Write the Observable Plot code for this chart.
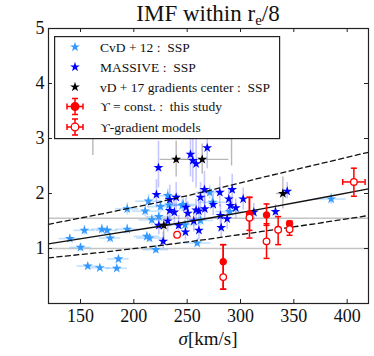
<!DOCTYPE html>
<html><head><meta charset="utf-8">
<script src="https://cdn.jsdelivr.net/npm/d3@7"></script>
<script src="https://cdn.jsdelivr.net/npm/@observablehq/plot@0.6"></script>
<style>
body{margin:0;background:#fff;}
#wrap{position:relative;width:374px;height:356px;font-family:"Liberation Serif","DejaVu Serif",serif;color:#111;}
#title{position:absolute;left:0;top:0;width:416px;text-align:center;font-size:23px;line-height:28px;white-space:nowrap;}
#title sub{font-size:15px;vertical-align:baseline;position:relative;top:4px;}
#xlabel{position:absolute;left:0;width:416px;top:328px;text-align:center;font-size:19px;line-height:22px;white-space:nowrap;}
#legend{position:absolute;left:54px;top:36px;}
</style></head><body>
<div id="wrap"><div id="chart"></div><div id="title">IMF within r<sub>e</sub>/8</div><div id="xlabel"><i>σ</i>[km/s]</div><svg id="legend" width="227" height="104"></svg></div>
<script>
// ---- data ----
const xTicks = [150, 200, 250, 300, 350, 400];
const yTicks = [1, 2, 3, 4, 5];
const refLines = [1, 1.55];

// CvD+12 : SSP (light blue stars)
const cvdSigma = [140,150,153.7,170,175,177.8,193.8,193.8,213.7,210.6,216.9,212.2,214.7,220.6,185.6,156.8,168.1,184,231.8,223.4,225,246.3,259.4,262.5,245.3,271.2,273.7,290,385,248,233];
const cvdIMF   = [1.18,1.02,1.33,1.35,1.33,1.19,1.35,1.72,1.86,1.68,1.52,1.22,1.19,0.98,0.81,0.68,0.65,0.64,1.96,1.58,1.76,1.80,1.10,1.51,1.78,2.02,1.84,1.67,1.90,1.43,1.79];
const cvdSigmaErr = [10,10,10,10,10,10,11,11,12,12,12,12,12,12,10,10,10,10,12,12,12,12,13,12,12,13,13,13,14,12,12];
const cvdIMFErr   = [0.08,0.07,0.09,0.09,0.09,0.08,0.09,0.11,0.12,0.1,0.1,0.08,0.08,0.07,0.06,0.05,0.05,0.05,0.12,0.1,0.11,0.11,0.07,0.1,0.11,0.12,0.11,0.1,0.1,0.09,0.11];

// MASSIVE : SSP (blue stars)
const masSigma = [223.1,253.1,255.3,258.4,268.8,266.2,280.6,292.2,221.2,233.7,239.7,262.5,289,302.5,233.7,238,249,258.4,266.5,290.6,281.2,312.5,332.8,223.4,231.8,242,248.4,256.2,261,227.5,287.5,281.9,343.8,250.6,274.4,295.6,260.9];
const masIMF   = [2.47,2.71,2.60,2.54,2.83,2.07,2.02,2.07,1.98,1.89,1.93,1.93,1.90,1.90,1.69,1.66,1.75,1.70,1.72,1.78,1.60,1.66,1.67,1.42,1.50,1.42,1.30,1.50,1.33,1.13,1.54,1.38,2.04,1.64,1.80,1.74,1.68];
const masIMFLo = [2.10,2.30,2.20,2.10,2.45,1.80,1.75,1.80,1.75,1.65,1.70,1.70,1.70,1.70,1.50,1.45,1.55,1.50,1.50,1.60,1.40,1.50,1.55,1.25,1.30,1.25,1.15,1.30,1.15,1.00,1.35,1.20,1.90,1.45,1.60,1.55,1.50];
const masIMFHi = [2.95,3.30,3.10,3.00,3.30,2.40,2.30,2.35,2.25,2.15,2.20,2.20,2.10,2.10,1.90,1.85,1.95,1.90,1.95,1.95,1.80,1.82,1.80,1.60,1.70,1.60,1.45,1.70,1.50,1.30,1.72,1.55,2.20,1.85,2.00,1.90,1.85];

// vD+17 gradients center : SSP (black stars)
const vdSigma = [239.7,264.1,228.1,339.7,291.6,161.6];
const vdIMF   = [2.62,2.62,1.42,2.00,3.30,3.20];
const vdSigmaErr = [15,25,8,6,10,8];
const vdIMFLo = [2.30,2.35,1.15,1.72,2.50,2.69];
const vdIMFHi = [2.95,2.90,1.50,2.30,4.00,3.70];

// Upsilon = const. : this study (filled red)
const constSigma = [283.8,308.4,324.4,346];
const constIMF   = [0.76,1.63,1.61,1.45];
const constLo    = [0.26,1.33,1.42,1.38];
const constHi    = [1.07,1.93,1.81,1.50];

// Upsilon-gradient models (open red)
const gradSigma = [283.8,308.4,324.4,335.3,346,406.3,240.6];
const gradIMF   = [0.48,1.56,1.13,1.34,1.35,2.21,1.25];
const gradLo    = [0.26,1.19,0.82,1.07,1.24,1.95,1.25];
const gradHi    = [1.07,1.93,1.45,1.58,1.48,2.46,1.25];
const gradSigmaErr = [0,0,0,0,0,10.5,0];

// fit relation and scatter
const fitSigma = [120,170,223,270,320,370,420];
const fitMid   = [1.085,1.24,1.40,1.55,1.72,1.90,2.085];
const fitUp    = [1.44,1.63,1.84,2.05,2.29,2.52,2.75];
const fitLow   = [0.83,0.93,1.05,1.17,1.31,1.45,1.60];

// ---- tables ----
const cvd = cvdSigma.map((s,i)=>({s, v:cvdIMF[i], se:cvdSigmaErr[i], ve:cvdIMFErr[i]}));
const mas = masSigma.map((s,i)=>({s, v:masIMF[i], lo:masIMFLo[i], hi:masIMFHi[i]}));
const vd  = vdSigma.map((s,i)=>({s, v:vdIMF[i], se:vdSigmaErr[i], lo:vdIMFLo[i], hi:vdIMFHi[i]}));
const cst = constSigma.map((s,i)=>({s, v:constIMF[i], lo:constLo[i], hi:constHi[i]}));
const grd = gradSigma.map((s,i)=>({s, v:gradIMF[i], lo:gradLo[i], hi:gradHi[i], se:gradSigmaErr[i]}));
const fit = fitSigma.map((s,i)=>({s, mid:fitMid[i], up:fitUp[i], low:fitLow[i]}));

const capH = {draw(ctx){ctx.moveTo(-3,0);ctx.lineTo(3,0);}};
const capV = {draw(ctx){ctx.moveTo(0,-3);ctx.lineTo(0,3);}};
const RED = "#ff0000", LB = "#3399ff", BL = "#0000ff";
const gradBars = grd.filter(d=>d.hi>d.lo);
const gradX = grd.filter(d=>d.se>0);
const SR = 3.1;

const plot = Plot.plot({
  width: 374, height: 356,
  marginTop: 28, marginBottom: 53, marginLeft: 48, marginRight: 6,
  style: {fontFamily: '"Liberation Serif","DejaVu Serif",serif', background: "white", color: "#111"},
  x: {domain: [120, 420]},
  y: {domain: [0, 5]},
  marks: [
    Plot.ruleY(refLines, {y: d=>d, stroke: "#c4c4c4", strokeWidth: 1.5}),
    // CvD error bars
    Plot.ruleY(cvd, {y:"v", x1:d=>d.s-d.se, x2:d=>d.s+d.se, stroke: LB, strokeOpacity: 0.3, strokeWidth: 1.6}),
    Plot.ruleX(cvd, {x:"s", y1:d=>d.v-d.ve, y2:d=>d.v+d.ve, stroke: LB, strokeOpacity: 0.3, strokeWidth: 1.6}),
    // MASSIVE error bars
    Plot.ruleX(mas, {x:"s", y1:"lo", y2:"hi", stroke: BL, strokeOpacity: 0.22, strokeWidth: 1.6}),
    // vD+17 error bars
    Plot.ruleY(vd, {y:"v", x1:d=>d.s-d.se, x2:d=>d.s+d.se, stroke: "#888", strokeOpacity: 0.6, strokeWidth: 1.4}),
    Plot.ruleX(vd, {x:"s", y1:"lo", y2:"hi", stroke: "#888", strokeOpacity: 0.6, strokeWidth: 1.4}),
    Plot.dot(cvd, {x:"s", y:"v", symbol:"star", r:SR, fill: LB}),
    Plot.dot(mas, {x:"s", y:"v", symbol:"star", r:SR, fill: BL}),
    Plot.dot(vd,  {x:"s", y:"v", symbol:"star", r:SR, fill: "black"}),
    // fit lines
    Plot.line(fit, {x:"s", y:"mid", stroke:"#111", strokeWidth:1.3}),
    Plot.line(fit, {x:"s", y:"up", stroke:"#111", strokeWidth:1.3, strokeDasharray:"5,3.5"}),
    Plot.line(fit, {x:"s", y:"low", stroke:"#111", strokeWidth:1.3, strokeDasharray:"5,3.5"}),
    // red error bars
    Plot.ruleX(cst, {x:"s", y1:"lo", y2:"hi", stroke: RED, strokeWidth: 1.5}),
    Plot.ruleX(gradBars, {x:"s", y1:"lo", y2:"hi", stroke: RED, strokeWidth: 1.5}),
    Plot.ruleY(gradX, {y:"v", x1:d=>d.s-d.se, x2:d=>d.s+d.se, stroke: RED, strokeWidth: 1.5}),
    Plot.dot(cst, {x:"s", y:"lo", symbol: capH, stroke: RED, fill: "none", strokeWidth: 1.5}),
    Plot.dot(cst, {x:"s", y:"hi", symbol: capH, stroke: RED, fill: "none", strokeWidth: 1.5}),
    Plot.dot(gradBars, {x:"s", y:"lo", symbol: capH, stroke: RED, fill: "none", strokeWidth: 1.5}),
    Plot.dot(gradBars, {x:"s", y:"hi", symbol: capH, stroke: RED, fill: "none", strokeWidth: 1.5}),
    Plot.dot(gradX, {x:d=>d.s-d.se, y:"v", symbol: capV, stroke: RED, fill: "none", strokeWidth: 1.5}),
    Plot.dot(gradX, {x:d=>d.s+d.se, y:"v", symbol: capV, stroke: RED, fill: "none", strokeWidth: 1.5}),
    Plot.dot(cst, {x:"s", y:"v", r:3.3, fill: RED, stroke: RED, strokeWidth: 1}),
    Plot.dot(grd, {x:"s", y:"v", r:3.3, fill: "white", stroke: RED, strokeWidth: 1.3}),
    // frame, ticks, axes
    Plot.frame({stroke: "#222", strokeWidth: 1.2}),
    Plot.tickX(xTicks, {x: d=>d, insetTop: 271, stroke: "#222"}),
    Plot.tickX(xTicks, {x: d=>d, insetBottom: 271, stroke: "#222"}),
    Plot.tickY(yTicks, {y: d=>d, insetRight: 316, stroke: "#222"}),
    Plot.tickY(yTicks, {y: d=>d, insetLeft: 316, stroke: "#222"}),
    Plot.axisX({ticks: xTicks, tickFormat: d3.format("d"), tickSize: 0, tickPadding: 6, fontSize: 18, label: null}),
    Plot.axisY({ticks: yTicks, tickFormat: d3.format("d"), tickSize: 0, tickPadding: 4, fontSize: 18, label: null})
  ]
});
document.getElementById("chart").appendChild(plot);

// ---- legend ----
const lg = d3.select("#legend");
lg.append("rect").attr("x",0.6).attr("y",0.6).attr("width",225).attr("height",102)
  .attr("fill","white").attr("stroke","#222").attr("stroke-width",1.2);
const rows = [
  {t:"CvD + 12 :  SSP", k:"star", c:LB},
  {t:"MASSIVE :  SSP", k:"star", c:BL},
  {t:"vD + 17 gradients center :  SSP", k:"star", c:"black"},
  {t:"ϒ = const. :  this study", k:"err", c:RED, filled:true},
  {t:"ϒ-gradient models", k:"err", c:RED, filled:false}
];
const rowY = [11, 31, 51, 70.5, 91];
const starPath = d3.symbol(d3.symbolStar, Math.PI*SR*SR)();
rows.forEach((r,i)=>{
  const g = lg.append("g").attr("transform", `translate(21,${rowY[i]})`);
  if (r.k === "star") {
    g.append("path").attr("d", starPath).attr("fill", r.c);
  } else {
    const ln = (x1,y1,x2,y2)=>g.append("line").attr("x1",x1).attr("y1",y1).attr("x2",x2).attr("y2",y2).attr("stroke", r.c).attr("stroke-width",1.5);
    ln(0,-8,0,8); ln(-8,0,8,0);
    ln(-3,-8,3,-8); ln(-3,8,3,8); ln(-8,-3,-8,3); ln(8,-3,8,3);
    g.append("circle").attr("r",3.8).attr("fill", r.filled ? r.c : "white").attr("stroke", r.c).attr("stroke-width",1.3);
  }
  lg.append("text").attr("x",46).attr("y",rowY[i]+4.5).attr("font-size",13.5)
    .attr("font-family",'"Liberation Serif","DejaVu Serif",serif').style("white-space","pre").attr("fill","#111").text(r.t);
});
</script>
</body></html>
